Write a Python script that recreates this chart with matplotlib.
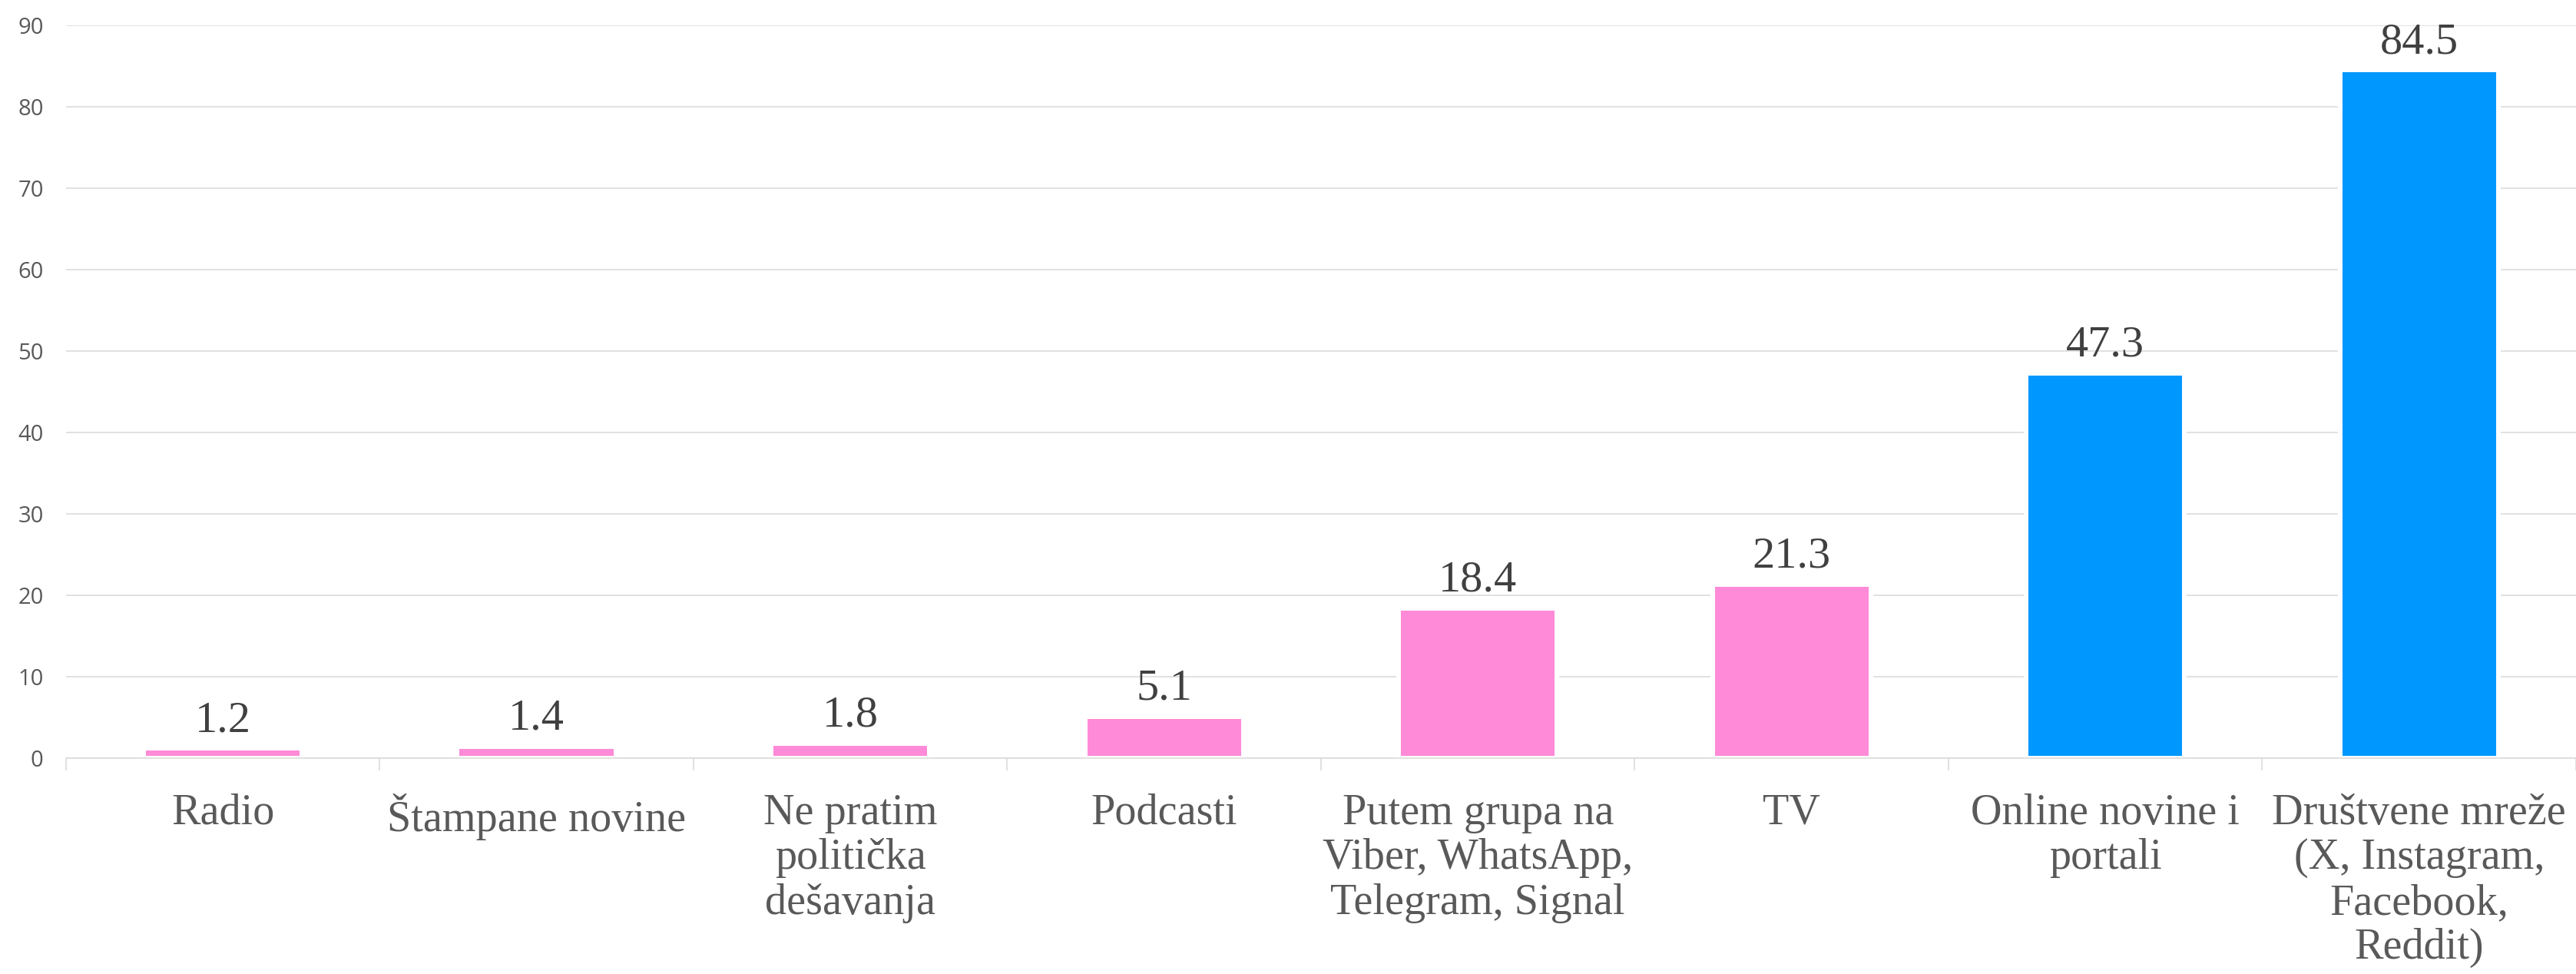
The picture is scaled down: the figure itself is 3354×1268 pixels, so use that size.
import matplotlib
matplotlib.use("Agg")
import matplotlib.pyplot as plt
import numpy as np

# data
categories = ["Radio", "Štampane novine", "Ne pratim\npolitička\ndešavanja",
              "Podcasti", "Putem grupa na\nViber, WhatsApp,\nTelegram, Signal",
              "TV", "Online novine i\nportali",
              "Društvene mreže\n(X, Instagram,\nFacebook,\nReddit)"]
values = [1.2, 1.4, 1.8, 5.1, 18.4, 21.3, 47.3, 84.5]
value_labels = ["1.2", "1.4", "1.8", "5.1", "18.4", "21.3", "47.3", "84.5"]
yticks = [0, 10, 20, 30, 40, 50, 60, 70, 80, 90]

pink = "#FF8AD8"
blue = "#0097FF"
colors = [pink] * 6 + [blue] * 2
grid_c = "#D9D9D9"

plt.rcParams['font.family'] = ['Liberation Serif', 'DejaVu Serif']

fig = plt.figure(figsize=(33.54, 12.68), dpi=100)
ax = fig.add_axes([0.0256, 0.2216, 0.9744, 0.7524])

x = np.arange(len(categories))
bars = ax.bar(x, values, width=0.505, color=colors, edgecolor="white",
              linewidth=4.3, zorder=2)

for xi, v, lab in zip(x, values, value_labels):
    ax.annotate(lab, (xi, v), xytext=(0, 16), textcoords="offset points",
                ha="center", va="baseline", fontsize=42, color="#404040")

ax.set_xlim(-0.5, len(categories) - 0.5)
ax.set_ylim(0, 90)
ax.set_yticks(yticks)
ax.set_yticklabels([str(t) for t in yticks], family=['Open Sans', 'DejaVu Sans'],
                   fontsize=21, color="#595959")
ax.tick_params(axis="y", length=0, pad=21)

ax.set_xticks(x)
ax.set_xticklabels(categories, fontsize=40.5, color="#595959", linespacing=1.16)
ax.tick_params(axis="x", which="major", length=0, pad=33)
ax.set_xticks(np.arange(-0.5, len(categories)), minor=True)
ax.tick_params(axis="x", which="minor", length=11.5, width=1.1, color=grid_c)

ax.set_axisbelow(True)
ax.yaxis.grid(True, color=grid_c, linewidth=1.1)
for s in ["left", "right", "top"]:
    ax.spines[s].set_visible(False)
ax.spines["bottom"].set_color(grid_c)
ax.spines["bottom"].set_linewidth(1.1)
ax.spines["bottom"].set_zorder(3)

fig.savefig("out.png", dpi=100)
